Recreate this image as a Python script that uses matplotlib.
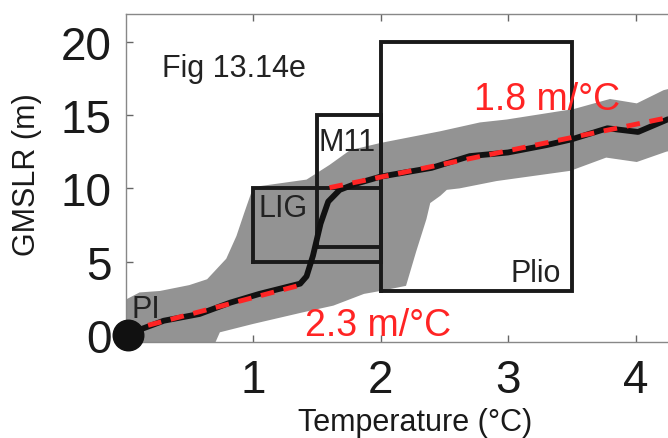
import numpy as np
import matplotlib
matplotlib.use("Agg")
import matplotlib.pyplot as plt

plt.rcParams['font.family'] = ['Liberation Sans', 'DejaVu Sans']

# median GMSLR curve (m) vs warming (deg C)
med_x = [0, 0.3, 0.58, 0.82, 1.05, 1.37, 1.42, 1.47, 1.53, 1.59, 1.68, 1.8, 2.0,
         2.2, 2.4, 2.7, 3.0, 3.3, 3.5, 3.78, 4.02, 4.25, 4.5]
med_y = [0, 0.97, 1.43, 2.2, 2.8, 3.5, 4.0, 5.4, 7.6, 9.1, 9.9, 10.3, 10.8,
         11.1, 11.4, 12.2, 12.45, 12.95, 13.35, 14.1, 13.85, 14.7, 15.2]

# uncertainty band edges
up_x = [0, 0.11, 0.27, 0.5, 0.64, 0.79, 0.87, 0.93, 0.99, 1.05, 1.42, 1.6, 1.76,
        2.0, 2.47, 2.78, 2.99, 3.43, 3.51, 3.8, 4.01, 4.22, 4.5]
up_y = [2.4, 2.9, 3.0, 3.4, 3.8, 5.2, 6.75, 8.3, 9.8, 10.15, 10.6, 11.6, 12.6,
        13.1, 13.9, 14.5, 14.7, 15.3, 15.4, 16.1, 15.8, 16.7, 17.3]
low_x = [0, 0.68, 0.74, 1.0, 1.39, 1.63, 1.87, 2.0, 2.2, 2.28, 2.36, 2.39, 2.47,
         2.52, 2.62, 2.91, 3.49, 3.77, 4.01, 4.24, 4.5]
low_y = [-1.0, -1.0, 0.18, 0.75, 1.54, 2.0, 2.8, 3.0, 3.35, 5.7, 7.9, 9.0, 9.5,
         9.9, 10.0, 10.5, 11.2, 12.1, 11.8, 12.5, 13.0]

# linear fits (end points)
fit1_x = [0, 1.38]
fit1_y = [0.25, 3.42]
fit2_x = [1.6, 4.5]
fit2_y = [10.05, 15.27]

# paleo constraint boxes: (name, xmin, xmax, ymin, ymax)
boxes = [("LIG", 1.0, 2.0, 5, 10),
         ("M11", 1.5, 2.0, 6, 15),
         ("Plio", 2.0, 3.5, 3, 20)]

fig = plt.figure(figsize=(6.68, 4.39), dpi=100)
ax = fig.add_axes([0.1879, 0.2194, 0.8589, 0.7465])

band_x = np.concatenate([up_x, low_x[::-1]])
band_y = np.concatenate([up_y, low_y[::-1]])
ax.fill(band_x, band_y, color='#939393', lw=0, zorder=1)

for name, x0, x1, y0, y1 in boxes:
    ax.plot([x0, x1, x1, x0, x0], [y0, y0, y1, y1, y0], color='#1a1a1a', lw=2.8,
            zorder=2, solid_joinstyle='miter')

ax.plot(med_x, med_y, color='#111111', lw=4.2, zorder=3)
ax.plot(fit1_x, fit1_y, color='#ff2424', lw=3.5, dashes=(2.8, 2.0), zorder=4)
ax.plot(fit2_x, fit2_y, color='#ff2424', lw=3.5, dashes=(2.8, 2.0), zorder=4)

ax.plot([0.02], [0], 'o', color='#111111', ms=22, clip_on=False, zorder=5)

ax.text(0.05, 1.2, "PI", fontsize=22, color='#222222', zorder=6)
ax.text(1.04, 8.12, "LIG", fontsize=22, color='#222222', zorder=6)
ax.text(1.51, 12.65, "M11", fontsize=22, color='#222222', zorder=6)
ax.text(3.02, 3.7, "Plio", fontsize=22, color='#222222', zorder=6)
ax.text(0.29, 17.64, "Fig 13.14e", fontsize=22, color='#222222')
ax.text(2.73, 15.4, "1.8 m/\u00b0C", fontsize=27, color='#ff2424', zorder=6)
ax.text(1.41, 0.0, "2.3 m/\u00b0C", fontsize=27, color='#ff2424', zorder=6)

ax.set_xlim(0, 4.5)
ax.set_ylim(-0.46, 21.9)
ax.set_xticks([1, 2, 3, 4])
ax.set_yticks([0, 5, 10, 15, 20])
ax.tick_params(direction='in', length=5, width=1, color='#666666',
               labelsize=33, labelcolor='#1a1a1a', top=True)
ax.tick_params(axis='x', pad=12)
ax.tick_params(axis='y', pad=10)
for s in ax.spines.values():
    s.set_color('#888888')
    s.set_linewidth(1)

ax.set_xlabel("Temperature (\u00b0C)", fontsize=22, color='#1a1a1a')
ax.xaxis.set_label_coords(0.5046, -0.2)
ax.set_ylabel("GMSLR (m)", fontsize=22, color='#1a1a1a', va='center')
ax.yaxis.set_label_coords(-0.172, 0.512)

fig.savefig("out.png", dpi=100)
